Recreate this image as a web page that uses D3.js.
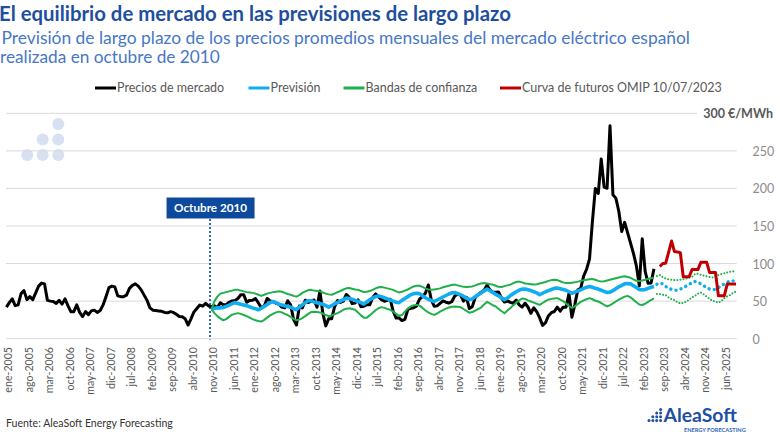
<!DOCTYPE html>
<html><head><meta charset="utf-8">
<script src="https://cdn.jsdelivr.net/npm/d3@7"></script>
<style>body{margin:0;background:#fff}svg{display:block;font-family:Lato,'Open Sans',sans-serif}</style>
</head><body><svg id="c" width="780" height="440"></svg>
<script>
// ---------- DATA ----------
const monthNames = ["ene","feb","mar","abr","may","jun","jul","ago","sep","oct","nov","dic"];
const firstYear = 2005, monthCount = 250; // ene-2005 .. oct-2025
const months = d3.range(monthCount).map(i => monthNames[i % 12] + "-" + (firstYear + Math.floor(i / 12)));

const marketStart = "ene-2005";
const marketPrices = [
  42, 48, 53, 44, 45, 60, 64, 52, 56, 52, 61, 70,
  74, 73, 51, 50, 49.5, 47, 51, 46, 53, 44, 36, 36,
  45, 35, 29.5, 36, 32, 37, 38, 35, 37.5, 45, 56, 68,
  70, 69, 57, 56, 56, 58, 67, 71, 73, 70, 65, 58,
  51, 41, 38, 37.5, 37, 36.5, 35, 34.5, 36, 35, 32.5, 29.5,
  29.3, 26.6, 18.2, 26.4, 35.6, 40.1, 44.8, 43.3, 47.1, 43.6, 42.7, 43.8,
  41.3, 47.8, 45.3, 45.4, 48.5, 50.2, 50.8, 53.5, 58.5, 58.4, 48.5, 51.0,
  51.1, 53.5, 47.6, 41.2, 43.5, 53.5, 50.3, 49.3, 47.2, 46.0, 42.0, 41.1,
  50.5, 45.0, 25.9, 18.2, 43.5, 40.9, 51.2, 48.1, 50.2, 51.5, 41.8, 63.6,
  33.6, 17.1, 26.7, 26.4, 42.4, 50.9, 48.2, 49.9, 58.9, 55.1, 46.8, 47.5,
  51.6, 42.6, 43.1, 45.3, 45.1, 54.7, 59.6, 55.6, 51.9, 49.9, 51.2, 52.6,
  36.5, 27.5, 27.8, 24.1, 25.8, 38.9, 40.5, 41.2, 43.6, 52.8, 56.1, 60.5,
  71.5, 51.7, 43.2, 43.7, 47.1, 50.2, 48.6, 47.5, 49.2, 56.8, 59.2, 57.9,
  50.0, 54.9, 40.2, 42.7, 54.9, 58.5, 61.9, 64.3, 71.3, 65.1, 62.0, 61.8,
  62.0, 54.0, 48.8, 50.4, 48.4, 47.2, 51.5, 45.0, 42.1, 47.2, 42.2, 33.8,
  41.1, 35.9, 27.7, 17.7, 21.3, 30.6, 34.6, 36.2, 42.0, 36.6, 41.9, 42.0,
  60.2, 28.5, 45.4, 65.0, 67.1, 83.3, 92.4, 105.9, 156.1, 199.9, 193.4, 239.2,
  201.7, 200.2, 283.3, 191.5, 187.1, 169.6, 142.7, 154.9, 141.1, 127.4, 113.6, 96.9,
  70.3, 133.0, 89.6, 73.7, 74.2, 93.0
];

const forecastStart = "nov-2010";
const forecast = [
  40, 40.5, 41, 41, 41.5, 43, 44.5, 46.5, 48, 47,
  46, 45, 44, 42.5, 41, 40, 38.5, 40.5, 43, 45.5,
  48, 49.5, 48, 46, 45, 44, 43, 42, 40, 38.5,
  42, 45, 48, 50.5, 50.5, 49, 48, 47, 46, 44,
  42, 44, 46.5, 48, 50, 52, 54, 53.5, 52.5, 51,
  49.5, 48, 46, 49, 52, 54, 56, 57, 56, 54.5,
  53, 51.5, 50, 48.5, 48, 51, 53.5, 56, 58.5, 60,
  60.5, 60, 57, 54.5, 52.5, 51, 49.5, 51.5, 53.5, 55.5,
  57.5, 59.5, 61, 61.5, 60, 58.5, 56.5, 54, 52, 53,
  56, 58.5, 61, 63.5, 66, 64, 61.5, 59, 57, 54.5,
  52, 54, 57.5, 60, 62.5, 64.5, 66, 66, 65, 64,
  62.5, 61, 58.5, 60.5, 62.5, 64, 65.5, 67, 67.5, 66.5,
  65.5, 64.5, 62.5, 60.5, 62, 63.5, 65, 67, 68.5, 69.5,
  68.5, 67, 66, 64.5, 63, 61.5, 62, 64, 66.5, 69,
  71, 73, 73.5, 73, 70.5, 68, 65.5, 65, 65.5, 67,
  68.5, 69.5
];
const bandUpper = [
  39, 50, 56, 60, 61, 62, 63, 64, 65, 65,
  64, 63, 62, 61.5, 61, 60, 58.5, 57, 58.5, 60,
  61, 62, 62.5, 63, 62.5, 61, 59.5, 58.5, 57, 56,
  58, 61, 63, 64.5, 65, 64, 63.5, 63, 61.5, 60,
  59, 58.5, 60, 62, 63.5, 65.5, 67, 67.4, 66.5, 65.5,
  65, 63.5, 62, 62.5, 63.5, 65, 67, 68.5, 68.8, 68,
  67, 66, 65, 63, 61.6, 62.5, 64, 65.5, 67.5, 69.5,
  70.5, 70.5, 69, 67, 65.5, 65, 65.5, 66, 67, 68.5,
  69.5, 70.5, 71.5, 72, 71, 70, 69, 68.8, 69.2, 69.6,
  71, 72.5, 73.5, 74, 73.5, 72.5, 72, 70.5, 69, 68.8,
  70, 71, 72, 74, 75.5, 76, 75, 73.5, 73, 72.5,
  72, 72.5, 73.5, 74.5, 75.5, 77, 78, 78.6, 78, 76.5,
  75, 74, 74, 74.5, 75, 76, 77, 77.7, 78.5, 79,
  79.5, 78.5, 77, 76, 76.5, 77.5, 78.5, 79.5, 80.5, 81.5,
  82.5, 83, 82, 81, 79, 77, 76.6, 77.5, 78.5, 79.5,
  80.5, 81
];
const bandLower = [
  39, 34, 30, 27, 24.5, 26, 29, 32, 33, 34,
  33, 31.5, 30, 28, 26, 24.5, 23.5, 22.8, 25, 28,
  31, 33, 35, 36, 35, 33, 31.5, 29, 26.5, 24.5,
  25.5, 27.5, 30, 33, 35.5, 36, 35.5, 35, 33.5, 31.5,
  30, 31, 32.5, 34, 36, 38.5, 40, 40.5, 39.5, 38.5,
  35, 31, 28, 28, 31, 34.5, 38, 40.5, 42, 41,
  39.5, 38.5, 36, 33, 30.5, 31.5, 36, 40, 43, 44.5,
  45, 44, 41, 37.5, 35, 33, 31.7, 33.5, 36, 38,
  40, 41.5, 42.5, 42.9, 42.5, 42, 39.5, 37, 34.5, 35.5,
  37.5, 39.5, 41.5, 45.5, 49, 47, 44.5, 43, 39.5, 36.5,
  34, 37.5, 41, 44.5, 48, 51, 53.5, 53, 51, 49.5,
  48, 46.5, 45, 47.5, 50, 52, 53, 53.5, 54, 52,
  50, 47, 43.5, 41, 43, 46, 49, 51, 52.5, 54,
  52.5, 50.5, 49.5, 47.5, 45, 43, 44.5, 47, 49.5, 52,
  54, 56, 57, 55, 52, 48.5, 45.5, 44.8, 46.5, 49,
  51.5, 53.6
];

const outlookStart = "jul-2023";
const forecastOutlook = [72.5, 74, 73, 69.5, 67.5, 65.5, 64.5, 64.5, 66, 68, 70, 72, 75, 76, 75, 73, 70.5, 68, 66, 65.5, 65.5, 68, 70.5, 72.7, 75, 77, 77, 77];
const bandUpperOutlook = [83.5, 84.7, 82, 80, 79, 78.5, 78, 78, 78.5, 79, 80, 81, 82.5, 86, 86.5, 85, 84, 83, 82, 81.5, 83, 84.7, 86, 87, 88, 89, 89.8, 88];
const bandLowerOutlook = [59.5, 59.4, 58.5, 58, 55, 52.5, 51.5, 48.5, 47, 47.5, 49.3, 52, 55, 57, 60, 61.4, 59, 56, 53, 50.5, 49.3, 48, 50, 54, 56.5, 58, 61, 63];

const futuresStart = "ago-2023";
const futures = [96, 100, 100.5, 115, 130, 116, 115.5, 114.5, 82.5, 82.5, 82.5, 92, 92, 92, 101.6, 101.6, 101.6, 88, 88, 88, 57, 57, 57, 72.7, 72.7, 72.7, 72.7];

const yTicks = [0, 50, 100, 150, 200, 250];
const yTopLabel = "300 €/MWh";
const xTickStep = 7;
const markerMonth = "oct-2010";
const markerLabel = "Octubre 2010";
const legendLabels = ["Precios de mercado", "Previsión", "Bandas de confianza", "Curva de futuros OMIP 10/07/2023"];
const title = "El equilibrio de mercado en las previsiones de largo plazo";
const subtitle = ["Previsión de largo plazo de los precios promedios mensuales del mercado eléctrico español", "realizada en octubre de 2010"];
const source = "Fuente: AleaSoft Energy Forecasting";

// ---------- CHART ----------
const svg = d3.select("#c");
svg.append("rect").attr("width", 780).attr("height", 440).attr("fill", "#fff");

const x = d3.scalePoint().domain(months).range([6.4, 736]);
const y = d3.scaleLinear().domain([0, 300]).range([338.7, 113.3]);

function fit(sel, w) {
  const l = sel.node().getComputedTextLength();
  const fs = parseFloat(sel.attr("font-size"));
  if (l > 0) sel.attr("font-size", fs * w / l);
  return sel;
}

// Titles
fit(svg.append("text").attr("x", -1).attr("y", 20.5).attr("font-size", 18).attr("font-weight", 700)
  .attr("fill", "#1e4f9f").text(title), 512);
fit(svg.append("text").attr("x", 1.5).attr("y", 43.5).attr("font-size", 17).attr("font-weight", 400)
  .attr("fill", "#4677c6").text(subtitle[0]), 689);
fit(svg.append("text").attr("x", 0).attr("y", 63).attr("font-size", 17).attr("font-weight", 400)
  .attr("fill", "#4677c6").text(subtitle[1]), 220);

// Legend
const legendColors = ["#000000", "#10aef0", "#1fb04c", "#c00000"];
const legendX = [95, 248.5, 343.5, 500];
legendLabels.forEach((lab, i) => {
  const g = svg.append("g").attr("transform", `translate(${legendX[i]},88)`);
  g.append("line").attr("x1", 0).attr("x2", 21).attr("stroke", legendColors[i]).attr("stroke-width", 3);
  g.append("text").attr("x", 22).attr("y", 4.3).attr("font-size", 12.5).attr("fill", "#595959").text(lab);
});

// Decorative dots
[[58.3,124],[42.7,139.5],[58.3,139.5],[27.3,155],[42.7,155],[58.3,155]].forEach(p =>
  svg.append("circle").attr("cx", p[0]).attr("cy", p[1]).attr("r", 6).attr("fill", "#d7e1f1"));

// Gridlines
const grid = svg.append("g");
yTicks.concat([300]).forEach(v => {
  grid.append("line").attr("x1", 6).attr("x2", v === 300 ? 697 : 736.7)
    .attr("y1", y(v)).attr("y2", y(v)).attr("stroke", "#d9d9d9").attr("stroke-width", 1);
});

// Y axis (right)
const yAxis = svg.append("g").attr("transform", "translate(752.5,0)")
  .call(d3.axisRight(y).tickValues(yTicks).tickSize(0).tickPadding(0));
yAxis.select(".domain").remove();
yAxis.selectAll("text").attr("font-family", "Lato").attr("font-size", 12.5).attr("fill", "#8c8c8c")
  .attr("text-anchor", "start").attr("dy", "0.36em");
svg.append("text").attr("x", 773).attr("y", y(300)).attr("dy", "0.36em").attr("text-anchor", "end")
  .attr("font-size", 12.5).attr("font-weight", 700).attr("fill", "#595959").text(yTopLabel);

// X axis
const xAxis = svg.append("g").attr("transform", "translate(1.4,347)")
  .call(d3.axisBottom(x).tickValues(months.filter((d, i) => i % xTickStep === 0)).tickSize(0).tickPadding(0));
xAxis.select(".domain").remove();
xAxis.selectAll("text").attr("font-family", "Lato").attr("font-size", 10.6).attr("fill", "#595959")
  .attr("text-anchor", "end").attr("transform", "rotate(-90)").attr("x", 0).attr("y", 0).attr("dy", "0.36em");

// Series helper
function series(start, values) {
  const s = months.indexOf(start);
  return values.map((v, i) => [months[s + i], v]);
}
const line = d3.line().x(d => x(d[0])).y(d => y(d[1]));

function draw(data, color, w, dash) {
  const p = svg.append("path").datum(data).attr("d", line).attr("fill", "none")
    .attr("stroke", color).attr("stroke-width", w).attr("stroke-linejoin", "round");
  if (dash) p.attr("stroke-dasharray", dash).attr("stroke-linecap", "round");
  return p;
}

// Marker line (between oct and nov 2010)
const mi = months.indexOf(markerMonth);
const mx = (x(months[mi]) + x(months[mi + 1])) / 2;
svg.append("line").attr("x1", mx).attr("x2", mx).attr("y1", 219).attr("y2", 339.5)
  .attr("stroke", "#2a68c8").attr("stroke-width", 2).attr("stroke-dasharray", "2,2");

draw(series(marketStart, marketPrices), "#000000", 3);
draw(series(forecastStart, forecast), "#10aef0", 3.6);
draw(series(outlookStart, forecastOutlook), "#10aef0", 3.4, "0.1,5.2");
draw(series(forecastStart, bandUpper), "#1fb04c", 2);
draw(series(forecastStart, bandLower), "#1fb04c", 2);
draw(series(outlookStart, bandUpperOutlook), "#1fb04c", 2, "0.1,3");
draw(series(outlookStart, bandLowerOutlook), "#1fb04c", 2, "0.1,3");
draw(series(futuresStart, futures), "#c00000", 3);

// Marker label box
svg.append("rect").attr("x", mx - 43.5).attr("y", 197.5).attr("width", 88).attr("height", 21).attr("fill", "#0d4a9e");
fit(svg.append("text").attr("x", mx + 0.5).attr("y", 212.3).attr("text-anchor", "middle").attr("font-size", 12.5)
  .attr("font-weight", 700).attr("fill", "#ffffff").text(markerLabel), 73);

// Footer
fit(svg.append("text").attr("x", 6).attr("y", 426.5).attr("font-size", 11.5).attr("fill", "#333333").text(source), 167);

// Logo
const logoDots = [[649,[420.5]],[652.8,[416.8,420.5]],[656.7,[413,416.8,420.5]],[660.6,[409.4,413,416.8,420.5]]];
logoDots.forEach(c => c[1].forEach(cy => svg.append("circle").attr("cx", c[0]).attr("cy", cy).attr("r", 1.5).attr("fill", "#1d4fa3")));
fit(svg.append("text").attr("x", 663.5).attr("y", 422).attr("font-size", 17.5).attr("font-weight", 700)
  .attr("fill", "#1d4fa3").text("AleaSoft"), 73.5);
fit(svg.append("text").attr("x", 684).attr("y", 431.5).attr("font-size", 6).attr("font-weight", 700)
  .attr("fill", "#2d62c0").text("ENERGY FORECASTING"), 62);
</script></body></html>
